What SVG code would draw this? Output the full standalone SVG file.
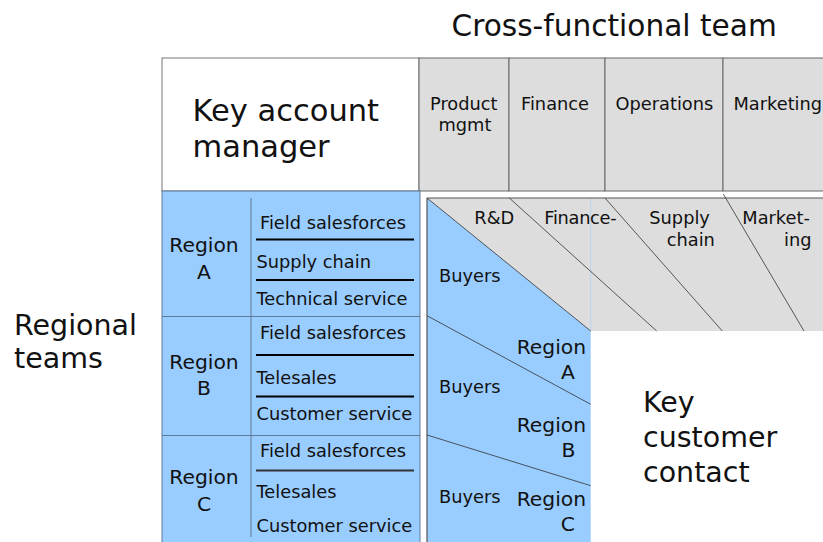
<svg xmlns="http://www.w3.org/2000/svg" width="823" height="542" viewBox="0 0 823 542">
<style>
text{font-family:"DejaVu Sans",Verdana,sans-serif;fill:#111}
.big{font-size:28.5px}
.kam{font-size:30.5px}
.title{font-size:29.6px}
.sm{font-size:17.8px}
.reg{font-size:20.3px}
.grey{fill:#dddddd;stroke:#666;stroke-width:1}
.blue{fill:#99ccff}
.rline{stroke:#5f7a96;stroke-width:1;fill:none}
.sep{stroke:#000;stroke-width:2}
.diag{stroke:#333;stroke-width:0.8;fill:none}
</style>
<rect width="823" height="542" fill="#fff"/>
<text class="title" x="451.5" y="36">Cross-functional team</text>
<text class="big" x="14" y="335">Regional</text>
<text class="big" x="14" y="368">teams</text>

<g id="key-account-manager">
<rect x="162" y="58" width="257" height="133" fill="#fff" stroke="#777" stroke-width="1"/>
<text class="kam" x="192.5" y="121">Key account</text>
<text class="kam" x="192.5" y="156.5">manager</text>
</g>

<g id="cross-functional">
<rect class="grey" x="419" y="58" width="90" height="133"/>
<rect class="grey" x="509" y="58" width="96" height="133"/>
<rect class="grey" x="605" y="58" width="118" height="133"/>
<rect class="grey" x="723" y="58" width="102" height="133"/>
<text class="sm" x="430" y="110">Product</text>
<text class="sm" x="438.5" y="131">mgmt</text>
<text class="sm" x="521" y="110">Finance</text>
<text class="sm" x="615.5" y="110">Operations</text>
<text class="sm" x="733.5" y="110">Marketing</text>
</g>

<g id="regional-teams">
<rect class="blue" x="162" y="191" width="258" height="353" stroke="#5f7a96" stroke-width="1"/>
<line class="rline" x1="162" y1="316.5" x2="420" y2="316.5"/>
<line class="rline" x1="162" y1="435.5" x2="420" y2="435.5"/>
<line class="rline" x1="251" y1="198" x2="251" y2="537"/>
<g id="region-a">
<text class="reg" x="204" y="252" text-anchor="middle">Region</text>
<text class="reg" x="204" y="278.5" text-anchor="middle">A</text>
<text class="sm" x="260" y="228.5">Field salesforces</text>
<line class="sep" x1="256" y1="239.5" x2="414" y2="239.5"/>
<text class="sm" x="256.5" y="267.5">Supply chain</text>
<line class="sep" x1="256" y1="280" x2="414" y2="280"/>
<text class="sm" x="256.5" y="304.5">Technical service</text>
</g>
<g id="region-b">
<text class="reg" x="204" y="368.5" text-anchor="middle">Region</text>
<text class="reg" x="204" y="395" text-anchor="middle">B</text>
<text class="sm" x="260" y="339">Field salesforces</text>
<line class="sep" x1="256" y1="355" x2="414" y2="355" stroke="#222"/>
<text class="sm" x="256.5" y="384">Telesales</text>
<line class="sep" x1="256" y1="396.5" x2="414" y2="396.5"/>
<text class="sm" x="256.5" y="420">Customer service</text>
</g>
<g id="region-c">
<text class="reg" x="204" y="484" text-anchor="middle">Region</text>
<text class="reg" x="204" y="510.5" text-anchor="middle">C</text>
<text class="sm" x="260" y="456.5">Field salesforces</text>
<line x1="256" y1="470.5" x2="414" y2="470.5" stroke="#333" stroke-width="2"/>
<text class="sm" x="256.5" y="498">Telesales</text>
<text class="sm" x="256.5" y="531.5">Customer service</text>
</g>
</g>

<g id="key-customer-contact">
<rect x="427" y="198" width="398" height="133" fill="#dddddd"/>
<line x1="590.7" y1="198" x2="590.7" y2="331" stroke="#b8d4ee" stroke-width="1"/>
<polygon class="blue" points="427,198 590.7,331 590.7,544 427,544"/>
<line x1="427" y1="198" x2="825" y2="198" stroke="#555" stroke-width="1.2"/>
<line x1="427" y1="198" x2="427" y2="544" stroke="#555" stroke-width="1.2"/>
<line class="diag" x1="427" y1="198" x2="590.7" y2="331"/>
<line class="diag" x1="509.3" y1="198" x2="656.7" y2="331"/>
<line class="diag" x1="605" y1="198" x2="722.3" y2="331"/>
<line class="diag" x1="723.3" y1="194" x2="804" y2="331"/>
<line class="diag" x1="427" y1="315.7" x2="590.7" y2="404.3"/>
<line class="diag" x1="427" y1="435" x2="590.7" y2="485.7"/>
<text class="sm" x="474.3" y="224">R&amp;D</text>
<text class="sm" x="544.3" y="224" letter-spacing="-0.3">Finance-</text>
<text class="sm" x="649.3" y="224">Supply</text>
<text class="sm" x="666.7" y="245.7">chain</text>
<text class="sm" x="742.3" y="224">Market-</text>
<text class="sm" x="784" y="245.7">ing</text>
<text class="sm" x="439" y="282.3">Buyers</text>
<text class="sm" x="439" y="393.3">Buyers</text>
<text class="sm" x="439" y="503.3">Buyers</text>
<text class="reg" x="516.7" y="354">Region</text>
<text class="reg" x="561" y="379">A</text>
<text class="reg" x="516.7" y="432.3">Region</text>
<text class="reg" x="561.5" y="457.3">B</text>
<text class="reg" x="516.7" y="505.7">Region</text>
<text class="reg" x="560.7" y="530.7">C</text>
<text class="big" x="643" y="411.7">Key</text>
<text class="big" x="643" y="446.7">customer</text>
<text class="big" x="643" y="481.7">contact</text>
</g>
</svg>
